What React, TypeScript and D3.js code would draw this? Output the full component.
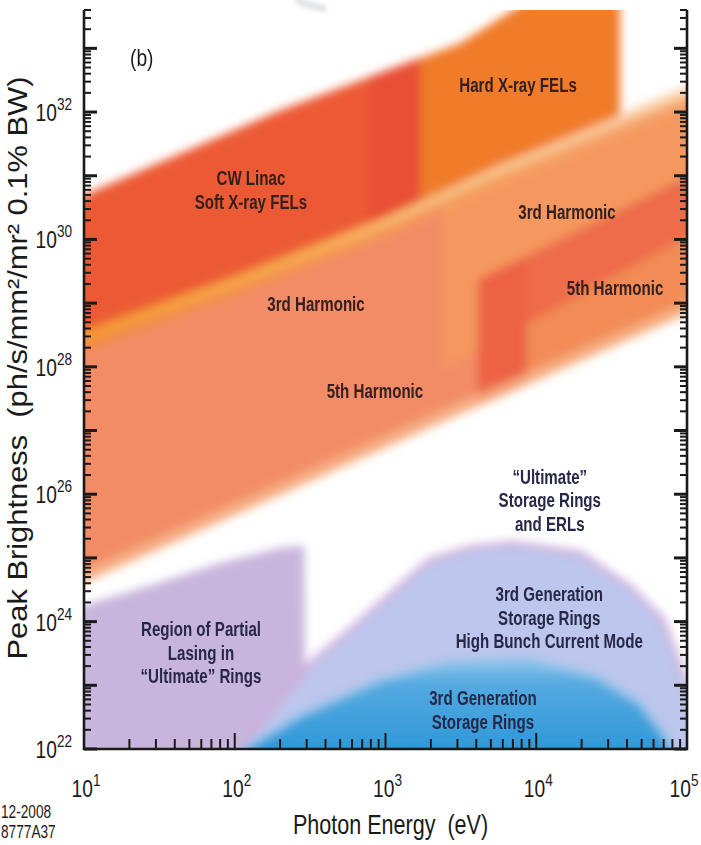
import React from "react";
import * as d3 from "d3";

const WIDTH = 701;
const HEIGHT = 845;

// ---- axes ----
const energyDomain: [number, number] = [10, 1e5];
const brightnessDomain: [number, number] = [1e22, 4e33];
const xLabelDecades = [10, 100, 1000, 10000, 100000];
const xLabelExps = ["1", "2", "3", "4", "5"];
const yLabelDecades = [1e22, 1e24, 1e26, 1e28, 1e30, 1e32];
const yLabelExps = ["22", "24", "26", "28", "30", "32"];

// ---- boundary curves, [photon energy eV, peak brightness] ----
const felTopEdge = [[10, 5.0e30], [69.5, 3.6e31], [200, 1.07e32], [3120, 1.2e33], [7000, 4.0e33]];
const felLightLine = [[10, 3.0e28], [108, 2.3e29], [980, 1.8e30], [5750, 1.23e31], [25000, 5.2e31], [1e5, 2.05e32]];
const harmonicBottom = [[10, 4.2e24], [200, 1.0e26], [2560, 1.5e27], [1e5, 7.0e28]];
const hard5thTop = [[4100, 2.3e29], [90000, 8.5e30], [1e5, 9.8e30]];
const hard3rdBottom = [[2370, 8.9e27], [90000, 9.8e29], [1e5, 1.1e30]];

// energy extents of the bands (eV)
const softFelRange = [10, 1700];
const hardFelRange = [790, 36000];
const felOverlapRange = [790, 1700];
const softHarmonicRange = [10, 8600];
const hard3rdRange = [2400, 1e5];
const hard5thRange = [4100, 1e5];
const darkStripRange = [4100, 8600];

// storage ring regions (upper boundaries)
const partialLasingTop = [[10, 1.8e24], [27.4, 3.7e24], [80, 8.3e24], [200, 1.45e25], [290, 1.55e25], [292, 2.5e23], [292, 1e22]];
const ultimateRingTop = [[108, 1.0e22], [200, 5.9e22], [321, 2.3e23], [582, 7.4e23], [918, 1.95e24], [1970, 9.3e24], [3630, 1.45e25], [7000, 1.7e25], [19500, 1.2e25], [41900, 3.5e24], [69300, 1.07e24], [90000, 2.0e23], [1e5, 1.0e23]];
const thirdGenTop = [[115, 1.0e22], [271, 3.4e22], [918, 1.2e23], [2560, 2.24e23], [9100, 2.5e23], [25300, 1.35e23], [48800, 5.2e22], [69300, 1.8e22], [79400, 1.0e22]];

// annotations: lines, anchor [eV, brightness] of first baseline
const felLabels = [
  { lines: ["CW Linac", "Soft X-ray FELs"], at: [128, 7.1e30] },
  { lines: ["Hard X-ray FELs"], at: [7570, 2.1e32] },
  { lines: ["3rd Harmonic"], at: [346, 7.5e28] },
  { lines: ["5th Harmonic"], at: [851, 3.2e27] },
  { lines: ["3rd Harmonic"], at: [16000, 2.1e30] },
  { lines: ["5th Harmonic"], at: [33300, 1.34e29] },
];
const ringLabels = [
  { lines: ["\u201CUltimate\u201D", "Storage Rings", "and ERLs"], at: [12300, 1.45e26] },
  { lines: ["3rd Generation", "Storage Rings", "High Bunch Current Mode"], at: [12200, 2.1e24] },
  { lines: ["3rd Generation", "Storage Rings"], at: [4430, 4.9e22] },
  { lines: ["Region of Partial", "Lasing in", "\u201CUltimate\u201D Rings"], at: [59.7, 5.9e23] },
];

const FONT = "'Liberation Sans', Arial, Helvetica, sans-serif";

const decadeTicks = (lo: number, hi: number) => {
  const out: number[] = [];
  for (let e = Math.floor(Math.log10(lo)); e <= Math.ceil(Math.log10(hi)); e++) {
    for (let k = 1; k <= 9; k++) {
      const v = k * Math.pow(10, e);
      if (v >= lo * 0.999 && v <= hi * 1.001) out.push(v);
    }
  }
  return out;
};

export default function App() {
  const x = d3.scaleLog().domain(energyDomain).range([84, 687]);
  const y = d3.scaleLog().domain(brightnessDomain).range([749, 10]);
  const L = { left: 84, right: 687, top: 10, bottom: 749 };

  const line = d3
    .line<number[]>()
    .x((d) => x(d[0]))
    .y((d) => y(d[1]));

  const extend = (c: number[][]) => {
    const lg = c.map((p) => [Math.log10(p[0]), Math.log10(p[1])]);
    const a = lg[0], b = lg[1];
    const s0 = (b[1] - a[1]) / (b[0] - a[0] || 1);
    const m = lg[lg.length - 2], n = lg[lg.length - 1];
    const s1 = (n[1] - m[1]) / (n[0] - m[0] || 1);
    const first = [Math.pow(10, a[0] - 0.6), Math.pow(10, a[1] - 0.6 * s0)];
    const last = [Math.pow(10, n[0] + 0.6), Math.pow(10, n[1] + 0.6 * s1)];
    return [first, ...c, last];
  };
  const band = (top: number[][], bottom: number[][]) =>
    line([...extend(top), ...extend(bottom).reverse()]) + "Z";
  const regionPath = (top: number[][]) => {
    const pts = [[top[0][0] / 1.5, 1e21], ...top, [top[top.length - 1][0] * 1.6, 1e21]];
    return line(pts) + "Z";
  };
  const partialPath =
    line([[4, 1e21], [4, 1.1e24], ...partialLasingTop, [292, 1e21]]) + "Z";
  const clipFor = (r: number[]) => {
    const x0 = x(r[0]) - (r[0] <= energyDomain[0] ? 60 : 0);
    const x1 = x(r[1]) + (r[1] >= energyDomain[1] ? 60 : 0);
    return { x: x0, width: x1 - x0 };
  };

  const layers = [
    { id: "softH", range: softHarmonicRange, top: felLightLine, bottom: harmonicBottom, fill: "#F28C66" },
    { id: "hard3", range: hard3rdRange, top: felLightLine, bottom: hard3rdBottom, fill: "#F4985E" },
    { id: "hard5", range: hard5thRange, top: hard5thTop, bottom: harmonicBottom, fill: "#F28B57" },
    { id: "dark", range: hard5thRange, top: hard5thTop, bottom: hard3rdBottom, fill: "#EE6C48" },
    { id: "strip", range: darkStripRange, top: hard5thTop, bottom: harmonicBottom, fill: "#EC6242" },
    { id: "hardF", range: hardFelRange, top: felTopEdge, bottom: felLightLine, fill: "#F07B2C" },
    { id: "softF", range: softFelRange, top: felTopEdge, bottom: felLightLine, fill: "#EC5A35" },
    { id: "ovl", range: felOverlapRange, top: felTopEdge, bottom: felLightLine, fill: "#E85036" },
  ];

  const yTicks = decadeTicks(brightnessDomain[0], brightnessDomain[1]);
  const xTicks = decadeTicks(energyDomain[0], energyDomain[1]);
  const isMajor = (v: number) => Math.abs(Math.log10(v) - Math.round(Math.log10(v))) < 1e-6;

  const labelText = (
    item: { lines: string[]; at: number[] },
    i: number,
    color: string,
    key: string
  ) =>
    item.lines.map((t, j) => (
      <text
        key={key + i + "-" + j}
        transform={`translate(${x(item.at[0])},${y(item.at[1]) + j * 23.5}) scale(0.72,1)`}
        textAnchor="middle"
        fontFamily={FONT}
        fontWeight="bold"
        fontSize={21}
        fill={color}
      >
        {t}
      </text>
    ));

  const lightLinePath = line(extend(felLightLine)) as string;
  const bottomEdgePath = line(extend(harmonicBottom)) as string;

  return (
    <svg
      width={WIDTH}
      height={HEIGHT}
      style={{ position: "absolute", left: 0, top: 0, background: "#fff" }}
    >
      <defs>
        <clipPath id="plot">
          <rect x={L.left} y={L.top} width={L.right - L.left} height={L.bottom - L.top} />
        </clipPath>
        {layers.map((l) => {
          const c = clipFor(l.range);
          return (
            <clipPath id={"c-" + l.id} key={l.id}>
              <rect x={c.x} y={-200} width={c.width} height={1300} />
            </clipPath>
          );
        })}
        <filter id="blurO" filterUnits="userSpaceOnUse" x={-100} y={-100} width={900} height={1050}>
          <feGaussianBlur stdDeviation={5} />
        </filter>
        <filter id="blurP" filterUnits="userSpaceOnUse" x={-100} y={-100} width={900} height={1050}>
          <feGaussianBlur stdDeviation={5} />
        </filter>
        <filter id="blurS" filterUnits="userSpaceOnUse" x={-100} y={-100} width={900} height={1050}>
          <feGaussianBlur stdDeviation={2.5} />
        </filter>
        <linearGradient id="streak" gradientUnits="userSpaceOnUse" x1={L.left} x2={L.right} y1={0} y2={0}>
          <stop offset="0" stopColor="#F6A030" />
          <stop offset="0.4" stopColor="#F8B458" />
          <stop offset="0.6" stopColor="#FAC88E" />
          <stop offset="1" stopColor="#FCD8B2" />
        </linearGradient>
        <linearGradient id="streakWide" gradientUnits="userSpaceOnUse" x1={L.left} x2={L.right} y1={0} y2={0}>
          <stop offset="0" stopColor="#F28A34" />
          <stop offset="0.5" stopColor="#F49A50" />
          <stop offset="1" stopColor="#F7B482" stopOpacity="0.6" />
        </linearGradient>
        <linearGradient id="blue" gradientUnits="userSpaceOnUse" x1={0} x2={0} y1={655} y2={749}>
          <stop offset="0" stopColor="#9CCBEE" />
          <stop offset="0.3" stopColor="#55AAE0" />
          <stop offset="1" stopColor="#2F98D8" />
        </linearGradient>
      </defs>

      {/* watermark remnant at the top */}
      <path d="M296,0 Q310,6 326,9" stroke="#D9DEE0" strokeWidth={6} fill="none" filter="url(#blurS)" />

      <g clipPath="url(#plot)">
        {/* storage ring regions */}
        <g filter="url(#blurP)">
          <path d={partialPath} fill="#C8B5DD" />
          <path d={regionPath(ultimateRingTop)} fill="#BDC6EC" stroke="#CFA9D8" strokeWidth={6} strokeOpacity={0.8} />
          <path d={regionPath(thirdGenTop)} fill="url(#blue)" stroke="#8EC4EA" strokeWidth={5} />
        </g>

        {/* FEL bands */}
        <g filter="url(#blurO)">
          {layers.map((l) => (
            <g key={l.id} clipPath={`url(#c-${l.id})`}>
              <path d={band(l.top, l.bottom)} fill={l.fill} />
            </g>
          ))}
          <path d={bottomEdgePath} stroke="#F8BE92" strokeWidth={12} fill="none" opacity={0.7} transform="translate(0,-5)" />
          <path d={lightLinePath} stroke="url(#streakWide)" strokeWidth={20} fill="none" opacity={0.75} transform="translate(0,4)" />
          <path d={lightLinePath} stroke="url(#streak)" strokeWidth={7} fill="none" />
        </g>
      </g>

      {/* axes */}
      <g stroke="#1A1A1A" fill="none">
        <line x1={L.left} x2={L.left} y1={L.top} y2={L.bottom + 1} strokeWidth={2.6} />
        <line x1={L.right} x2={L.right} y1={L.top} y2={L.bottom + 1} strokeWidth={2.6} />
        <line x1={L.left - 1} x2={L.right + 1} y1={L.bottom} y2={L.bottom} strokeWidth={2.6} />
        {yTicks.map((t, i) => {
          const yy = y(t);
          const maj = isMajor(t);
          const len = maj ? 13 : 7;
          return (
            <g key={"yt" + i} strokeWidth={maj ? 3 : 2}>
              <line x1={L.left} x2={L.left + len} y1={yy} y2={yy} />
              <line x1={L.right} x2={L.right - len} y1={yy} y2={yy} />
            </g>
          );
        })}
        {xTicks.map((t, i) => {
          const xx = x(t);
          const maj = isMajor(t);
          return (
            <line key={"xt" + i} x1={xx} x2={xx} y1={L.bottom} y2={L.bottom - (maj ? 16 : 10)} strokeWidth={2} />
          );
        })}
      </g>

      {/* tick labels */}
      {yLabelDecades.map((v, i) => (
        <text
          key={"yl" + i}
          transform={`translate(${L.left - 12},${y(v) + 9}) scale(0.8,1)`}
          textAnchor="end"
          fontFamily={FONT}
          fontSize={24}
          fill="#1A1A1A"
        >
          10
          <tspan fontSize={17} dy={-11}>
            {yLabelExps[i]}
          </tspan>
        </text>
      ))}
      {xLabelDecades.map((v, i) => (
        <text
          key={"xl" + i}
          transform={`translate(${Math.min(x(v) + 2, 684)},${797}) scale(0.8,1)`}
          textAnchor="middle"
          fontFamily={FONT}
          fontSize={24}
          fill="#1A1A1A"
        >
          10
          <tspan fontSize={17} dy={-11}>
            {xLabelExps[i]}
          </tspan>
        </text>
      ))}

      {/* axis titles */}
      <text
        transform={`translate(${(x(10) + x(1e5)) / 2 + 5},${834}) scale(0.77,1)`}
        textAnchor="middle"
        fontFamily={FONT}
        fontSize={28}
        fill="#1A1A1A"
        style={{ whiteSpace: "pre" }}
      >
        {"Photon Energy  (eV)"}
      </text>
      <text
        transform={`translate(27,368) rotate(-90)`}
        textAnchor="middle"
        fontFamily={FONT}
        fontSize={28}
        fill="#1A1A1A"
        textLength={583}
        lengthAdjust="spacingAndGlyphs"
        style={{ whiteSpace: "pre" }}
      >
        {"Peak Brightness  (ph/s/mm\u00B2/mr\u00B2 0.1% BW)"}
      </text>

      {/* panel tag and figure id */}
      <text transform="translate(130,66) scale(0.8,1)" fontFamily={FONT} fontSize={24} fill="#1A1A1A">
        (b)
      </text>
      <text transform="translate(1,818) scale(0.76,1)" fontFamily={FONT} fontSize={18} fill="#1A1A1A">
        12-2008
      </text>
      <text transform="translate(1,838) scale(0.76,1)" fontFamily={FONT} fontSize={18} fill="#1A1A1A">
        8777A37
      </text>

      {/* region labels */}
      {felLabels.map((it, i) => labelText(it, i, "#35201F", "fl"))}
      {ringLabels.map((it, i) => labelText(it, i, "#272848", "rl"))}
    </svg>
  );
}
